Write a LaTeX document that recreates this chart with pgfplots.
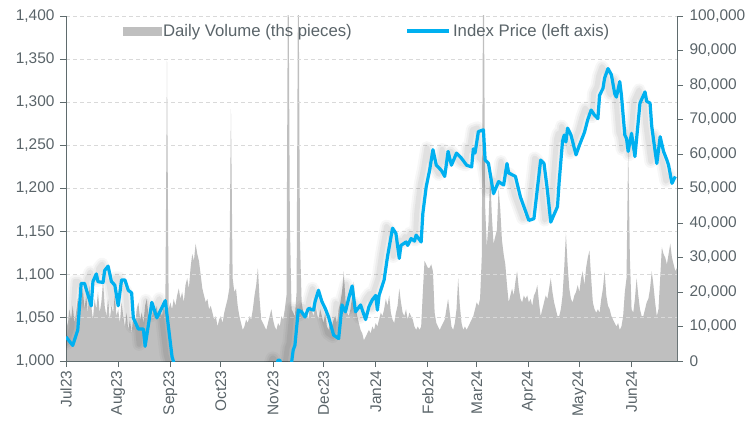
\documentclass[border=0pt]{standalone}
\usepackage{pgfplots}
\pgfplotsset{compat=1.18}
\usepackage{pgfplotstable}
\usepackage{fontspec}
\setmainfont{Liberation Sans}
\definecolor{txt}{HTML}{5A6469}
\definecolor{axl}{HTML}{5F6B6D}
\definecolor{vol}{HTML}{BFBFBF}
\definecolor{idx}{HTML}{00B0F0}
\definecolor{grd}{HTML}{D9D9D9}

\pgfplotstableread{
day price
0 1028
4 1018
7 1036
9 1090
11 1090
15 1064
16 1092
18 1101
19 1092
22 1091
23 1105
25 1110
27 1092
29 1088
31 1064
33 1094
35 1094
37 1082
39 1079
40 1050
43 1037
46 1037
47 1017
51 1068
54 1050
59 1070
63 1005
65 992
70 985
80 978
100 975
115 980
124 988
125 995
126 1001
127 1001
128 993
132 988
134 998
135 1013
136 1018
138 1059
140 1057
142 1051
144 1061
147 1059
148 1069
150 1082
152 1069
154 1061
156 1051
159 1030
162 1026
164 1065
166 1057
168 1073
170 1087
172 1057
175 1065
178 1048
180 1063
182 1071
184 1076
185 1059
186 1076
189 1094
191 1121
192 1132
194 1154
196 1148
198 1119
199 1134
202 1138
203 1134
205 1142
207 1139
208 1146
211 1138
212 1171
214 1202
216 1221
218 1245
220 1227
223 1221
225 1214
227 1243
229 1227
232 1241
235 1235
238 1227
241 1225
242 1246
243 1241
245 1266
248 1268
249 1233
251 1229
254 1194
257 1208
260 1204
262 1229
263 1218
267 1214
270 1190
275 1163
278 1165
282 1233
284 1229
286 1198
288 1161
292 1179
293 1208
295 1255
296 1262
297 1254
298 1270
300 1262
303 1239
305 1250
308 1265
310 1280
312 1291
314 1285
316 1281
317 1308
319 1316
320 1328
322 1339
324 1332
326 1310
327 1306
329 1324
330 1308
332 1262
333 1258
334 1243
336 1264
338 1237
341 1299
344 1312
345 1301
347 1299
348 1272
350 1243
351 1229
353 1260
355 1243
357 1233
358 1227
360 1206
362 1214
}\pricedata

\pgfplotstableread{
day volume
0 13000
1 10000
2 15000
3 12000
4 16000
5 11000
6 14000
7 18000
8 13000
9 17000
10 21000
11 15000
12 19000
13 14000
14 22000
15 16000
16 12000
17 18000
18 15000
19 20000
20 14000
21 17000
22 23000
23 16000
24 13000
25 18000
26 12000
27 16000
28 14000
29 19000
30 13000
31 15000
32 11000
33 17000
34 13000
35 10000
36 14000
37 9000
38 12000
39 8000
40 13000
41 10000
42 15000
43 17000
44 12000
45 14000
46 11000
47 16000
48 18000
49 13000
50 15000
51 12000
52 17000
53 14000
54 16000
55 12000
56 15000
57 13000
58 16000
59 14000
60 87000
61 15000
62 17000
63 15000
64 18000
65 16000
66 19000
67 21000
68 18000
69 20000
70 17000
71 22000
72 24000
73 21000
74 27000
75 31000
76 29000
77 34000
78 31000
79 29000
80 25000
81 21000
82 19000
83 17000
84 18000
85 15000
86 16000
87 14000
88 12000
89 13000
90 10000
91 12000
92 13000
93 11000
94 14000
95 16000
96 18000
97 21000
98 73000
99 24000
100 20000
101 21000
102 16000
103 13000
104 11000
105 9000
106 10000
107 12000
108 11000
109 13000
110 12000
111 15000
112 19000
113 22000
114 27000
115 18000
116 12000
117 11000
118 10000
119 9000
120 11000
121 13000
122 15000
123 12000
124 10000
125 9000
126 11000
127 10000
128 13000
129 12000
130 15000
131 19000
132 130000
133 40000
134 15000
135 14000
136 13000
137 20000
138 130000
139 35000
140 17000
141 14000
142 13000
143 15000
144 12000
145 16000
146 15000
147 13000
148 17000
149 14000
150 12000
151 15000
152 13000
153 11000
154 14000
155 10000
156 9000
157 11000
158 10000
159 12000
160 13000
161 11000
162 15000
163 17000
164 20000
165 26000
166 18000
167 14000
168 13000
169 15000
170 19000
171 23000
172 16000
173 13000
174 11000
175 9000
176 8000
177 6000
178 7000
179 8000
180 9000
181 8000
182 10000
183 9000
184 11000
185 10000
186 12000
187 14000
188 13000
189 15000
190 18000
191 16000
192 19000
193 14000
194 12000
195 11000
196 14000
197 16000
198 21000
199 17000
200 14000
201 13000
202 15000
203 12000
204 14000
205 13000
206 12000
207 10000
208 9000
209 10000
210 9000
211 10000
212 20000
213 29000
214 28000
215 27000
216 27000
217 28000
218 26000
219 14000
220 11000
221 10000
222 9000
223 10000
224 11000
225 12000
226 15000
227 18000
228 14000
229 10000
230 9000
231 11000
232 15000
233 24000
234 16000
235 11000
236 9000
237 10000
238 9000
239 10000
240 11000
241 12000
242 13000
243 15000
244 17000
245 16000
246 18000
247 30000
248 130000
249 45000
250 33000
251 40000
252 54000
253 42000
254 34000
255 36000
256 38000
257 50000
258 44000
259 35000
260 31000
261 28000
262 22000
263 17000
264 19000
265 21000
266 19000
267 23000
268 26000
269 21000
270 18000
271 17000
272 19000
273 18000
274 19000
275 17000
276 18000
277 16000
278 19000
279 20000
280 22000
281 17000
282 13000
283 15000
284 17000
285 19000
286 18000
287 21000
288 24000
289 20000
290 17000
291 15000
292 13000
293 13000
294 15000
295 19000
296 27000
297 37000
298 28000
299 21000
300 18000
301 17000
302 19000
303 20000
304 22000
305 20000
306 24000
307 26000
308 22000
309 27000
310 30000
311 32000
312 24000
313 17000
314 15000
315 14000
316 15000
317 14000
318 18000
319 21000
320 26000
321 19000
322 16000
323 15000
324 13000
325 12000
326 11000
327 10000
328 11000
329 9000
330 10000
331 13000
332 20000
333 24000
334 62000
335 30000
336 15000
337 14000
338 18000
339 24000
340 19000
341 15000
342 13000
343 13000
344 15000
345 17000
346 18000
347 21000
348 26000
349 22000
350 17000
351 13000
352 15000
353 24000
354 33000
355 31000
356 30000
357 28000
358 31000
359 34000
360 30000
361 28000
362 26000
363 27000
}\voldata

\pgfplotsset{
  common/.style={
    at={(0,0)}, anchor=south west, scale only axis,
    width=611bp, height=345bp, xmin=0, xmax=363,
    axis line style={axl, line width=0.9bp},
    tick style={axl, line width=0.9bp},
    major tick length=6bp, tick align=outside,
    ticklabel style={font=\fontsize{15.5}{18}\selectfont, text=txt},
    /pgf/number format/.cd, fixed, precision=0, 1000 sep={,}, assume math mode=true,
    /pgfplots/.cd,
    scaled y ticks=false,
  }
}

\begin{document}
\begin{tikzpicture}
\begin{axis}[common,
  ymin=0, ymax=100000,
  axis x line=none, axis y line*=right,
  ytick={0,10000,...,100000},
  yticklabel style={anchor=west, xshift=3bp},
]
\addplot[fill=vol, draw=none] table[x=day, y=volume] {\voldata} \closedcycle;
\end{axis}
\begin{axis}[common,
  ymin=1000, ymax=1400,
  axis x line*=bottom, axis y line*=left,
  ytick={1000,1050,...,1400},
  ymajorgrids, grid style={grd, line width=0.9bp, dash pattern=on 4bp off 3bp},
  xtick={0,31,62,92,123,153,184,215,244,275,305,336},
  xticklabels={Jul23,Aug23,Sep23,Oct23,Nov23,Dec23,Jan24,Feb24,Mar24,Apr24,May24,Jun24},
  xticklabel style={rotate=90, anchor=east},
  yticklabel style={anchor=east, xshift=-2bp},
  legend style={at={(0.4926,0.9565)}, anchor=center, draw=none, fill=none,
    font=\fontsize{16.8}{19}\selectfont, text=txt,
    legend columns=2, inner sep=0pt,
    /tikz/every even column/.append style={column sep=52bp},
    nodes={inner xsep=2bp}},
]
\addlegendimage{legend image code/.code={\fill[vol] (0bp,-4bp) rectangle (38bp,4bp);}}
\addlegendentry{Daily Volume (ths pieces)}
\addplot[no marks, line width=13bp, black, opacity=0.03, line join=round, line cap=round, xshift=-6bp, yshift=2bp, forget plot] table[x=day, y=price] {\pricedata};
\addplot[no marks, line width=9bp, black, opacity=0.04, line join=round, line cap=round, xshift=-6bp, yshift=2bp, forget plot] table[x=day, y=price] {\pricedata};
\addplot[no marks, line width=5bp, black, opacity=0.05, line join=round, line cap=round, xshift=-6bp, yshift=2bp, forget plot] table[x=day, y=price] {\pricedata};
\addplot[no marks, idx, line width=3.2bp, line join=round,
  legend image code/.code={\draw[idx, line width=3.2bp] (0bp,0bp) -- (42bp,0bp);}]
  table[x=day, y=price] {\pricedata};
\addlegendentry{Index Price (left axis)}
\end{axis}
\pgfresetboundingbox
\path[use as bounding box] (-66bp,-65bp) rectangle (683bp,361bp);
\end{tikzpicture}
\end{document}
